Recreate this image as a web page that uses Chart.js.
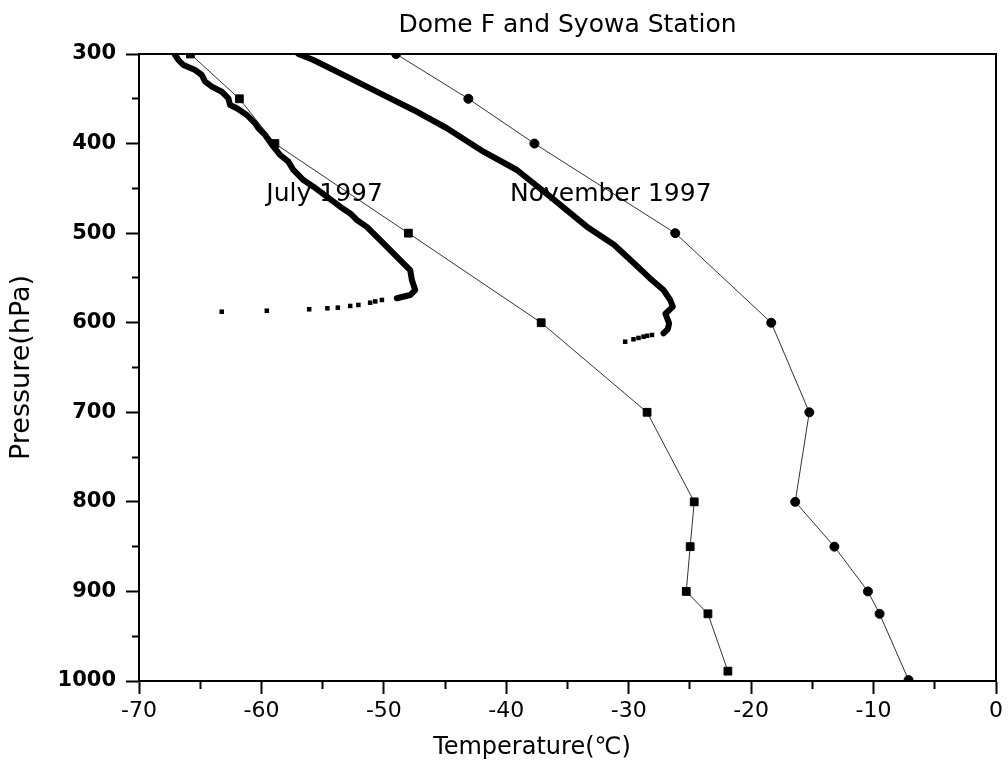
<!DOCTYPE html>
<html>
<head>
<meta charset="utf-8">
<script src="https://cdn.jsdelivr.net/npm/chart.js@4.4.1/dist/chart.umd.min.js"></script>
<style>
html,body{margin:0;padding:0;background:#fff;}
#wrap{width:1008px;height:763px;}
</style>
</head>
<body>
<div id="wrap"><canvas id="c" width="1008" height="763"></canvas></div>
<script>
// ---------- data (temperature in °C, pressure in hPa) ----------
const titleText = 'Dome F and Syowa Station';
const xTitleText = 'Temperature(\u2103)';
const yTitleText = 'Pressure(hPa)';

const xTickValues = [-70, -60, -50, -40, -30, -20, -10, 0];
const yTickValues = [300, 400, 500, 600, 700, 800, 900, 1000];

// Syowa Station sondes (thin line with markers)
const syowaJulyP = [300, 350, 400, 500, 600, 700, 800, 850, 900, 925, 989];
const syowaJulyT = [-65.8, -61.8, -58.9, -48.0, -37.15, -28.5, -24.65, -24.98, -25.3, -23.53, -21.9];
const syowaNovP  = [300, 350, 400, 500, 600, 700, 800, 850, 900, 925, 999];
const syowaNovT  = [-49.0, -43.1, -37.7, -26.2, -18.36, -15.25, -16.4, -13.2, -10.46, -9.51, -7.14];

// Dome F profiles (thick trace)
const domeJulyP = [300, 306.7, 312.3, 317.9, 323.4, 330.9, 336.5, 342.1, 349.5, 356.9, 360.6, 368.1, 377.4, 383, 390.4, 403.5, 412.8, 420.2, 429.5, 440.7, 448.1, 459.3, 470.5, 478, 485.3, 493, 511.3, 530, 541.2, 552.3, 563.5, 569.1, 572.7];
const domeJulyT = [-67.1, -66.78, -66.37, -65.42, -64.87, -64.6, -64.05, -63.24, -62.7, -62.56, -62.01, -61.19, -60.51, -60.24, -59.7, -59.02, -58.47, -57.8, -57.39, -56.57, -55.75, -54.66, -53.57, -52.75, -52.21, -51.39, -50.03, -48.67, -47.85, -47.71, -47.44, -47.85, -48.94];
// sparse tail of the July Dome F record
const domeJulyTailP = [574.6, 576.2, 577.7, 580.2, 581.3, 583.2, 583.9, 585.0, 586.6, 587.7];
const domeJulyTailT = [-50.16, -50.7, -51.12, -52.08, -52.75, -53.76, -54.61, -56.1, -59.56, -63.24];

const domeNovP = [300, 306.7, 325.3, 343.9, 362.5, 382.9, 409.1, 429.5, 459.3, 492.8, 513, 532, 550, 563.5, 574.6, 582, 590, 600.7, 607, 611.8];
const domeNovT = [-56.98, -55.75, -53.02, -50.3, -47.58, -44.85, -41.86, -39.13, -36.41, -33.42, -31.2, -29.7, -28.3, -27.16, -26.61, -26.4, -27.0, -26.7, -26.8, -27.16];
const domeNovTailP = [613.7, 614.6, 615.6, 617.0, 618.5, 621.2];
const domeNovTailT = [-28.1, -28.5, -28.79, -29.2, -29.61, -30.29];

// in-plot curve labels (left edge anchor, in data units)
const curveLabels = ['July 1997', 'November 1997'];
const curveLabelT = [-59.6, -39.7];
const curveLabelP = [457, 457];
const xTitleCenterT = -37.9;

// ---------- build ----------
const pts = (T, P) => T.map((t, i) => ({x: t, y: P[i]}));
const FONT = '"DejaVu Sans", "Liberation Sans", Arial, sans-serif';

const overlay = {
  id: 'overlay',
  afterDraw(chart) {
    const {ctx, chartArea: a, scales: {x, y}} = chart;
    ctx.save();
    ctx.strokeStyle = '#000';
    ctx.lineWidth = 2;
    ctx.strokeRect(a.left, a.top, a.right - a.left, a.bottom - a.top);
    ctx.fillStyle = '#000';
    ctx.font = '25px ' + FONT;
    ctx.textAlign = 'left';
    ctx.textBaseline = 'middle';
    curveLabels.forEach((s, i) => {
      ctx.fillText(s, x.getPixelForValue(curveLabelT[i]), y.getPixelForValue(curveLabelP[i]));
    });
    ctx.font = '24px ' + FONT;
    ctx.textAlign = 'center';
    ctx.fillText(xTitleText, x.getPixelForValue(xTitleCenterT), 748);
    ctx.restore();
  }
};

new Chart(document.getElementById('c'), {
  type: 'scatter',
  data: {
    datasets: [
      { label: 'Dome F July 1997', data: pts(domeJulyT, domeJulyP), showLine: true,
        borderColor: '#000', borderWidth: 6, pointRadius: 0, borderJoinStyle: 'round', borderCapStyle: 'round' },
      { label: 'Dome F July 1997 tail', data: pts(domeJulyTailT, domeJulyTailP), showLine: false,
        pointStyle: 'rect', pointRadius: 3.2, backgroundColor: '#000', borderColor: '#000', borderWidth: 0 },
      { label: 'Dome F November 1997', data: pts(domeNovT, domeNovP), showLine: true,
        borderColor: '#000', borderWidth: 6, pointRadius: 0, borderJoinStyle: 'round', borderCapStyle: 'round' },
      { label: 'Dome F November 1997 tail', data: pts(domeNovTailT, domeNovTailP), showLine: false,
        pointStyle: 'rect', pointRadius: 3.2, backgroundColor: '#000', borderColor: '#000', borderWidth: 0 },
      { label: 'Syowa July 1997', data: pts(syowaJulyT, syowaJulyP), showLine: true,
        borderColor: '#333', borderWidth: 1, pointStyle: 'rect', pointRadius: 5.5,
        pointBackgroundColor: '#000', pointBorderColor: '#000', pointBorderWidth: 1 },
      { label: 'Syowa November 1997', data: pts(syowaNovT, syowaNovP), showLine: true,
        borderColor: '#333', borderWidth: 1, pointStyle: 'circle', pointRadius: 4.5,
        pointBackgroundColor: '#000', pointBorderColor: '#000', pointBorderWidth: 1 }
    ]
  },
  options: {
    responsive: false,
    animation: false,
    devicePixelRatio: 1,
    layout: { padding: { top: 0, right: 12, bottom: 0, left: 0 } },
    plugins: {
      legend: { display: false },
      tooltip: { enabled: false },
      title: {
        display: true, text: titleText, fullSize: false, color: '#000',
        font: { family: FONT, size: 25, weight: 'normal', lineHeight: 1.2 },
        padding: { top: 10, bottom: 14 }
      }
    },
    scales: {
      x: {
        type: 'linear', position: 'bottom', min: -70, max: 0,
        afterFit: (s) => { s.height = 82; },
        afterBuildTicks: (s) => {
          const t = [];
          for (let v = -70; v <= 0; v += 5) t.push({value: v});
          s.ticks = t;
        },
        ticks: {
          autoSkip: false, maxRotation: 0, color: '#000', padding: 4,
          font: { family: FONT, size: 22 },
          callback: (v) => xTickValues.includes(v) ? String(v) : ''
        },
        grid: {
          drawOnChartArea: false, drawTicks: true, tickLength: 13, tickWidth: 2, tickColor: '#000',
          tickBorderDash: (c) => (c.tick && xTickValues.includes(c.tick.value)) ? [] : [7, 100]
        },
        border: { display: true, color: '#000', width: 2 }
      },
      y: {
        type: 'linear', position: 'left', min: 300, max: 1000, reverse: true,
        afterFit: (s) => { s.width = 139; },
        afterBuildTicks: (s) => {
          const t = [];
          for (let v = 300; v <= 1000; v += 50) t.push({value: v});
          s.ticks = t;
        },
        ticks: {
          autoSkip: false, color: '#000', padding: 10,
          font: { family: FONT, size: 21, weight: 'bold' },
          callback: (v) => yTickValues.includes(v) ? String(v) : ''
        },
        grid: {
          drawOnChartArea: false, drawTicks: true, tickLength: 13, tickWidth: 2, tickColor: '#000',
          tickBorderDash: (c) => (c.tick && yTickValues.includes(c.tick.value)) ? [] : [0, 6, 7, 100]
        },
        border: { display: true, color: '#000', width: 2 },
        title: {
          display: true, text: yTitleText, color: '#000',
          font: { family: FONT, size: 27, weight: 'normal', lineHeight: 1.2 },
          padding: { top: 6, bottom: 0 }
        }
      }
    }
  },
  plugins: [overlay]
});
</script>
</body>
</html>
